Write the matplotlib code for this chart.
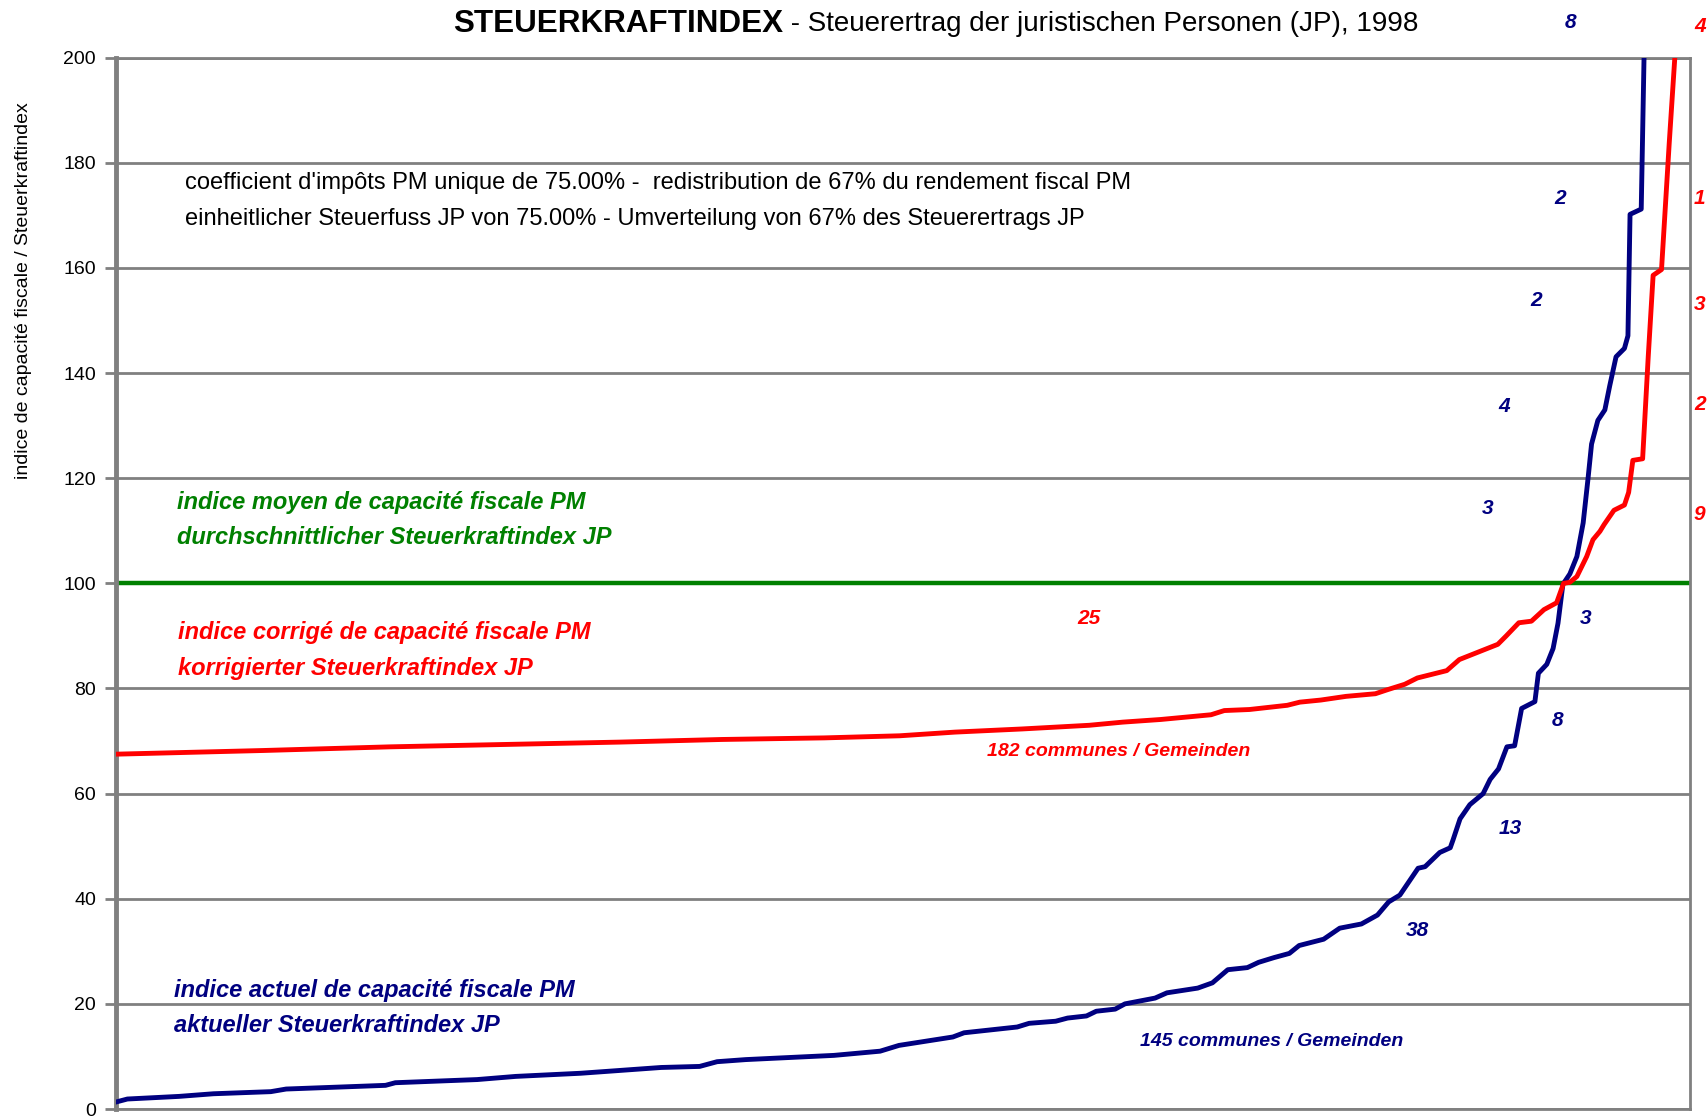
import matplotlib
matplotlib.use("Agg")
import matplotlib.pyplot as plt

# commune rank (position along the sorted x axis) and index values
actual_rank = [0, 1.7, 9.1, 14.0, 22.2, 24.4, 38.6, 40.0, 51.7, 57.2, 66.5, 78.0,
               83.5, 86.0, 90.1, 102.7, 109.3, 112.0, 119.7, 121.3, 128.9, 130.6,
               134.4, 136.1, 138.8, 140.2, 142.9, 144.3, 148.6, 150.3, 154.7, 156.8,
               159.0, 161.8, 163.4, 165.6, 167.8, 169.2, 172.7, 175.0, 178.1, 180.4,
               182.0, 183.6, 186.2, 187.2, 189.3, 190.8, 191.2, 192.2, 193.6, 195.5,
               196.5, 197.7, 198.9, 200.0, 201.0, 202.9, 203.4, 204.6, 205.5, 206.2,
               206.9, 207.9, 208.9, 209.8, 210.5, 211.0, 211.9, 212.9, 213.6, 214.5,
               215.7, 216.2, 216.5, 218.1, 218.5, 219.0]
actual_index = [1.3, 1.9, 2.4, 2.9, 3.3, 3.8, 4.5, 5.0, 5.6, 6.2, 6.8, 7.9,
                8.1, 9.0, 9.4, 10.2, 11.0, 12.1, 13.7, 14.5, 15.6, 16.3,
                16.7, 17.3, 17.7, 18.6, 19.0, 20.0, 21.1, 22.1, 23.0, 24.0,
                26.5, 26.9, 27.9, 28.8, 29.6, 31.1, 32.3, 34.4, 35.2, 36.9,
                39.4, 40.7, 45.8, 46.1, 48.8, 49.7, 51.2, 55.2, 57.9, 60.0,
                62.7, 64.7, 68.9, 69.1, 76.2, 77.5, 82.9, 84.6, 87.6, 92.4,
                99.8, 101.8, 105.1, 111.5, 120.0, 126.5, 131.0, 133.0, 137.6, 143.1,
                144.7, 147.1, 170.2, 171.2, 200.0, 230.0]

corrected_rank = [0, 21.1, 39.3, 53.9, 72.1, 86.7, 101.3, 112.1, 120.0, 129.6,
                  139.2, 144.0, 149.4, 156.6, 158.5, 162.1, 167.5, 169.3, 172.3, 175.9,
                  180.1, 181.9, 184.3, 186.1, 190.3, 192.1, 195.7, 197.6, 198.8, 200.6,
                  202.4, 204.2, 206.0, 207.0, 207.9, 208.9, 210.3, 211.2, 212.2, 212.8,
                  214.2, 215.7, 216.3, 216.9, 218.3, 219.1, 219.8, 221.0, 222.1, 222.9,
                  223.5]
corrected_index = [67.5, 68.2, 68.9, 69.3, 69.8, 70.3, 70.6, 71.0, 71.7, 72.3,
                   73.0, 73.6, 74.1, 75.0, 75.8, 76.0, 76.8, 77.4, 77.8, 78.5,
                   79.0, 79.8, 80.8, 82.0, 83.4, 85.5, 87.4, 88.4, 90.0, 92.5,
                   92.8, 95.0, 96.3, 100.0, 100.2, 101.3, 105.1, 108.3, 109.9, 111.2,
                   113.9, 114.9, 117.3, 123.4, 123.7, 143.1, 158.6, 159.7, 183.7, 200.0,
                   230.0]

mean_index = 100
n_last = 225

# commune counts per 20-point band
actual_counts = ["145", "38", "13", "8", "3", "3", "4", "2", "2", "8"]
corrected_counts = ["182", "25", "9", "2", "3", "1", "4"]

NAVY = "#000080"
RED = "#ff0000"
GREEN = "#008000"
GRID = "#808080"

plt.rcParams["font.family"] = ["Liberation Sans Narrow", "Liberation Sans", "DejaVu Sans"]

W, H = 1708, 1116
fig = plt.figure(figsize=(W / 100, H / 100), dpi=100)
ax = fig.add_axes([115.5 / W, 1 - 1109 / H, 1574 / W, 1051.3 / H])


def fxy(px, py):
    # pixel position (from top-left) -> figure fraction
    return px / W, 1 - py / H


ax.set_xlim(0, n_last)
ax.set_ylim(0, 200)
ax.set_yticks(range(0, 201, 20))
ax.set_xticks([])
ax.grid(True, axis="y", color=GRID, linewidth=2)
for side in ["top", "right", "bottom"]:
    ax.spines[side].set_color(GRID)
    ax.spines[side].set_linewidth(2)
ax.spines["left"].set_color(GRID)
ax.spines["left"].set_linewidth(3.5)
ax.tick_params(axis="y", colors=GRID, length=8, width=2, labelcolor="black",
               labelsize=14, pad=6)
ax.set_axisbelow(True)

ax.axhline(mean_index, color=GREEN, linewidth=3.2, zorder=2)
ax.plot(actual_rank, actual_index, color=NAVY, linewidth=3.5, zorder=3,
        solid_joinstyle="round", solid_capstyle="round")
ax.plot(corrected_rank, corrected_index, color=RED, linewidth=3.5, zorder=4,
        solid_joinstyle="round", solid_capstyle="round")

# y label
fig.text(*fxy(24, 291), "indice de capacité fiscale / Steuerkraftindex",
         rotation=90, ha="center", va="center", fontsize=14)

# title: bold part followed by regular part
t1 = fig.text(*fxy(453, 24), "STEUERKRAFTINDEX", fontsize=22.6, fontweight="bold",
              ha="left", va="center")
ax.annotate(" - Steuerertrag der juristischen Personen (JP), 1998", xy=(1, 0.5),
            xycoords=t1, ha="left", va="center", fontsize=20,
            annotation_clip=False)

fig.text(*fxy(185, 183), "coefficient d'impôts PM unique de 75.00% -  redistribution de 67% du rendement fiscal PM",
         fontsize=17, ha="left", va="center")
fig.text(*fxy(185, 219), "einheitlicher Steuerfuss JP von 75.00% - Umverteilung von 67% des Steuerertrags JP",
         fontsize=17, ha="left", va="center")

lbl = dict(fontsize=17, fontweight="bold", style="italic", ha="left", va="center")
fig.text(*fxy(177, 503), "indice moyen de capacité fiscale PM", color=GREEN, **lbl)
fig.text(*fxy(177, 538), "durchschnittlicher Steuerkraftindex JP", color=GREEN, **lbl)
fig.text(*fxy(178, 632), "indice corrigé de capacité fiscale PM", color=RED, **lbl)
fig.text(*fxy(178, 668), "korrigierter Steuerkraftindex JP", color=RED, **lbl)
fig.text(*fxy(174, 990), "indice actuel de capacité fiscale PM", color=NAVY, **lbl)
fig.text(*fxy(174, 1025), "aktueller Steuerkraftindex JP", color=NAVY, **lbl)

cnt = dict(fontsize=14, fontweight="bold", style="italic", ha="center", va="center")
fig.text(*fxy(1119, 751), corrected_counts[0] + " communes / Gemeinden", color=RED, **cnt)
fig.text(*fxy(1272, 1042), actual_counts[0] + " communes / Gemeinden", color=NAVY, **cnt)

num = dict(fontsize=15, fontweight="bold", style="italic", va="center")
actual_pos = [(1417, 931), (1510, 829), (1558, 721), (1586, 618), (1488, 509),
              (1504, 407), (1536, 301), (1560, 198), (1571, 23)]
for (px, py), c in zip(actual_pos, actual_counts[1:]):
    fig.text(*fxy(px, py), c, color=NAVY, ha="center", **num)

fig.text(*fxy(1089, 618), corrected_counts[1], color=RED, ha="center", **num)
corrected_pos = [(1694, 514), (1694, 405), (1694, 304), (1694, 198), (1694, 26)]
for (px, py), c in zip(corrected_pos, corrected_counts[2:]):
    fig.text(*fxy(px, py), c, color=RED, ha="left", **num)

fig.savefig("out.png", dpi=100)
